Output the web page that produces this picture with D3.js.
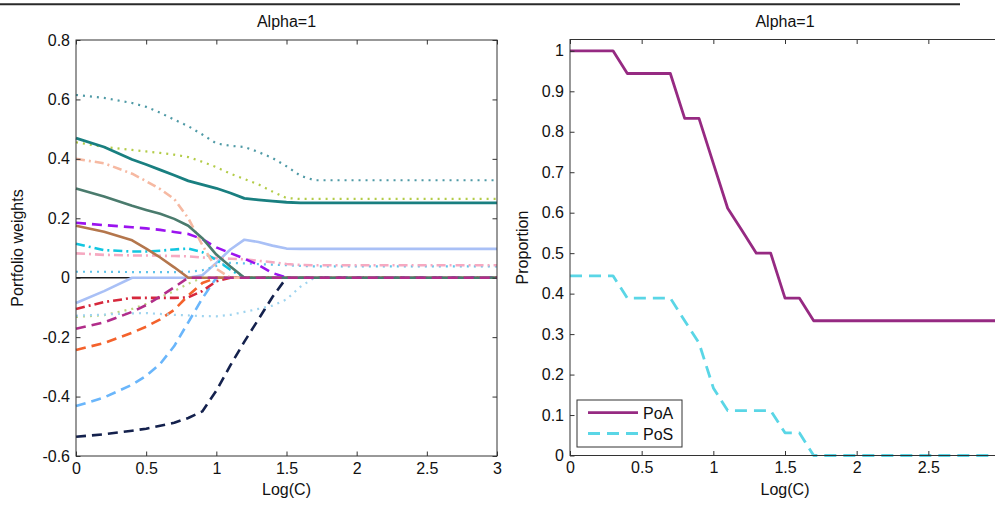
<!DOCTYPE html>
<html>
<head>
<meta charset="utf-8">
<script src="https://cdn.jsdelivr.net/npm/d3@7"></script>
<style>
  body { margin: 0; background: #fff; }
  svg { display: block; font-family: "Liberation Sans", Arial, sans-serif; }
</style>
</head>
<body>
<svg id="chart" width="995" height="505"></svg>
<script>
// ---- Left panel: portfolio weights along the regularisation path ----
const logC = [0, 0.2, 0.4, 0.5, 0.6, 0.7, 0.8, 0.9, 1.0, 1.1, 1.2, 1.3, 1.4, 1.5, 1.6, 1.7, 3];

const wBlackSolid      = [0, 0, 0, 0, 0, 0, 0, 0, 0, 0, 0, 0, 0, 0, 0, 0, 0];
const wTealDot         = [0.615, 0.605, 0.588, 0.575, 0.555, 0.532, 0.51, 0.482, 0.452, 0.444, 0.44, 0.423, 0.403, 0.375, 0.343, 0.328, 0.328];
const wTealSolid       = [0.47, 0.44, 0.398, 0.381, 0.363, 0.345, 0.326, 0.313, 0.301, 0.285, 0.267, 0.262, 0.258, 0.254, 0.252, 0.252, 0.252];
const wOliveDotA       = [0.456, 0.44, 0.43, 0.425, 0.42, 0.414, 0.406, 0.39, 0.372, 0.35, 0.332, 0.314, 0.29, 0.268, 0.265, 0.265, 0.265];
const wSalmonDashDot   = [0.40, 0.385, 0.35, 0.325, 0.298, 0.265, 0.2, 0.11, 0.03, 0, 0, 0, 0, 0, 0, 0, 0];
const wSlateSolid      = [0.30, 0.273, 0.242, 0.228, 0.215, 0.198, 0.175, 0.133, 0.078, 0.038, 0, 0, 0, 0, 0, 0, 0];
const wPurpleDash      = [0.185, 0.177, 0.17, 0.166, 0.161, 0.154, 0.147, 0.13, 0.102, 0.083, 0.064, 0.043, 0.016, 0, 0, 0, 0];
const wBrownSolid      = [0.175, 0.155, 0.126, 0.098, 0.068, 0.035, 0, 0, 0, 0, 0, 0, 0, 0, 0, 0, 0];
const wCyanDashDot     = [0.114, 0.093, 0.088, 0.088, 0.091, 0.095, 0.098, 0.086, 0.06, 0.027, 0, 0, 0, 0, 0, 0, 0];
const wPinkDashDot     = [0.082, 0.077, 0.075, 0.075, 0.074, 0.073, 0.072, 0.068, 0.066, 0.064, 0.062, 0.057, 0.052, 0.046, 0.043, 0.042, 0.042];
const wSkyDotA         = [0.02, 0.02, 0.019, 0.019, 0.019, 0.019, 0.02, 0.025, 0.04, 0.05, 0.048, 0.046, 0.044, 0.042, 0.04, 0.038, 0.038];
const wPeriwinkleSolid = [-0.085, -0.045, 0, 0, 0, 0, 0, 0.008, 0.05, 0.095, 0.128, 0.12, 0.108, 0.098, 0.097, 0.097, 0.097];
const wRedDashDot      = [-0.105, -0.082, -0.068, -0.068, -0.068, -0.068, -0.066, -0.045, -0.012, 0, 0, 0, 0, 0, 0, 0, 0];
const wOliveDotB       = [-0.132, -0.126, -0.105, -0.088, -0.066, -0.045, -0.02, 0, 0, 0, 0, 0, 0, 0, 0, 0, 0];
const wSkyDotB         = [-0.128, -0.124, -0.12, -0.119, -0.122, -0.125, -0.127, -0.129, -0.13, -0.125, -0.115, -0.105, -0.094, -0.073, -0.03, 0, 0];
const wMagentaDash     = [-0.172, -0.15, -0.115, -0.092, -0.063, -0.032, 0, 0, 0, 0, 0, 0, 0, 0, 0, 0, 0];
const wOrangeDash      = [-0.243, -0.22, -0.185, -0.165, -0.14, -0.108, -0.06, -0.018, 0, 0, 0, 0, 0, 0, 0, 0, 0];
const wSkyDash         = [-0.432, -0.403, -0.36, -0.33, -0.29, -0.23, -0.15, -0.07, 0, 0, 0, 0, 0, 0, 0, 0, 0];
const wNavyDash        = [-0.535, -0.527, -0.515, -0.508, -0.498, -0.488, -0.472, -0.45, -0.38, -0.295, -0.215, -0.14, -0.065, 0, 0, 0, 0];

const weightTicks      = [-0.6, -0.4, -0.2, 0, 0.2, 0.4, 0.6, 0.8];
const weightTickLabels = ["-0.6", "-0.4", "-0.2", "0", "0.2", "0.4", "0.6", "0.8"];
const logCTicks        = [0, 0.5, 1, 1.5, 2, 2.5, 3];
const logCTickLabels   = ["0", "0.5", "1", "1.5", "2", "2.5", "3"];

// ---- Right panel: proportion curves ----
const propLogC = [0, 0.3, 0.4, 0.7, 0.8, 0.9, 1.0, 1.1, 1.2, 1.3, 1.4, 1.5, 1.6, 1.7, 3];
const poa      = [1, 1, 0.944, 0.944, 0.833, 0.833, 0.722, 0.611, 0.556, 0.5, 0.5, 0.389, 0.389, 0.333, 0.333];
const pos      = [0.444, 0.444, 0.389, 0.389, 0.333, 0.278, 0.167, 0.111, 0.111, 0.111, 0.111, 0.056, 0.056, 0, 0];
const propTicks      = [0, 0.1, 0.2, 0.3, 0.4, 0.5, 0.6, 0.7, 0.8, 0.9, 1];
const propTickLabels = ["0", "0.1", "0.2", "0.3", "0.4", "0.5", "0.6", "0.7", "0.8", "0.9", "1"];
const propXTicks      = [0, 0.5, 1, 1.5, 2, 2.5];
const propXTickLabels = ["0", "0.5", "1", "1.5", "2", "2.5"];
const legendNames = ["PoA", "PoS"];
const panelTitle  = "Alpha=1";

// ---- line styles ----
const DASH = "10,6", DASHDOT = "9,4,2,4", DOT = "2,5";
const weightSeries = [
  { v: wBlackSolid,      color: "#1a1a1a", dash: null,    w: 1.6 },
  { v: wNavyDash,        color: "#14214d", dash: DASH,    w: 2.6 },
  { v: wSkyDash,         color: "#6ab6fb", dash: DASH,    w: 2.6 },
  { v: wOrangeDash,      color: "#f4622c", dash: DASH,    w: 2.6 },
  { v: wOliveDotB,       color: "#bcd57e", dash: DOT,     w: 2.2 },
  { v: wSkyDotB,         color: "#9fd4ef", dash: DOT,     w: 2.2 },
  { v: wRedDashDot,      color: "#d6283c", dash: DASHDOT, w: 2.6 },
  { v: wPeriwinkleSolid, color: "#a9c0f6", dash: null,    w: 2.6 },
  { v: wSkyDotA,         color: "#5fc3ea", dash: DOT,     w: 2.2 },
  { v: wPinkDashDot,     color: "#f6a9c1", dash: DASHDOT, w: 2.6 },
  { v: wCyanDashDot,     color: "#12c6e0", dash: DASHDOT, w: 2.6 },
  { v: wBrownSolid,      color: "#b4764c", dash: null,    w: 2.6 },
  { v: wPurpleDash,      color: "#9b13ef", dash: DASH,    w: 2.6 },
  { v: wSalmonDashDot,   color: "#f6b9a2", dash: DASHDOT, w: 2.6 },
  { v: wOliveDotA,       color: "#b3cc48", dash: DOT,     w: 2.2 },
  { v: wTealSolid,       color: "#197f80", dash: null,    w: 2.8 },
  { v: wTealDot,         color: "#4f9aa6", dash: DOT,     w: 2.2 },
  { v: wSlateSolid,      color: "#4a7b6d", dash: null,    w: 2.6 },
  { v: wMagentaDash,     color: "#b12d8a", dash: DASH,    w: 2.6 }
];

const svg = d3.select("#chart");
const FONT = 16, TICK = 4.5, AXIS_COLOR = "#333";

// rule across the top of the figure
svg.append("line").attr("x1", 0).attr("x2", 960).attr("y1", 4.3).attr("y2", 4.3)
  .attr("stroke", "#2a2a2a").attr("stroke-width", 2);

function panel(opts) {
  const { x, y, xTicks, xLabels, yTicks, yLabels, xTitle, yTitle, yTitleX } = opts;
  const [x0, x1] = x.range();
  const [y0, y1] = y.range(); // y0 bottom, y1 top
  const g = svg.append("g");

  const fmt = (ticks, labels) => d => labels[ticks.indexOf(d)];
  const styleAxis = sel => {
    sel.select(".domain").remove();
    sel.selectAll(".tick line").attr("stroke", AXIS_COLOR);
    sel.selectAll("text").attr("font-size", FONT).attr("fill", "#111")
      .attr("font-family", "'Liberation Sans', Arial, sans-serif");
  };

  g.append("g").attr("transform", `translate(0,${y0})`)
    .call(d3.axisBottom(x).tickValues(xTicks).tickFormat(fmt(xTicks, xLabels))
      .tickSizeInner(-TICK).tickSizeOuter(0).tickPadding(6.5)).call(styleAxis);
  g.append("g").attr("transform", `translate(0,${y1})`)
    .call(d3.axisTop(x).tickValues(xTicks).tickFormat("")
      .tickSizeInner(-TICK).tickSizeOuter(0)).call(styleAxis);
  g.append("g").attr("transform", `translate(${x0},0)`)
    .call(d3.axisLeft(y).tickValues(yTicks).tickFormat(fmt(yTicks, yLabels))
      .tickSizeInner(-TICK).tickSizeOuter(0).tickPadding(6)).call(styleAxis);
  g.append("g").attr("transform", `translate(${x1},0)`)
    .call(d3.axisRight(y).tickValues(yTicks).tickFormat("")
      .tickSizeInner(-TICK).tickSizeOuter(0)).call(styleAxis);

  // frame
  g.append("rect").attr("x", x0).attr("y", y1).attr("width", x1 - x0).attr("height", y0 - y1)
    .attr("fill", "none").attr("stroke", AXIS_COLOR).attr("stroke-width", 1);

  // titles
  const cx = (x0 + x1) / 2;
  svg.append("text").attr("x", cx).attr("y", 26.5).attr("text-anchor", "middle")
    .attr("font-size", FONT).attr("fill", "#111").text(panelTitle);
  svg.append("text").attr("x", cx).attr("y", 495).attr("text-anchor", "middle")
    .attr("font-size", FONT).attr("fill", "#111").text(xTitle);
  svg.append("text").attr("transform", `translate(${yTitleX},${(y0 + y1) / 2}) rotate(-90)`)
    .attr("text-anchor", "middle").attr("font-size", FONT).attr("fill", "#111").text(yTitle);
  return g;
}

// ---- left panel ----
const xL = d3.scaleLinear().domain([0, 3]).range([76, 497]);
const yL = d3.scaleLinear().domain([-0.6, 0.8]).range([456, 40]);
const gL = panel({ x: xL, y: yL, xTicks: logCTicks, xLabels: logCTickLabels,
  yTicks: weightTicks, yLabels: weightTickLabels, xTitle: "Log(C)",
  yTitle: "Portfolio weights", yTitleX: 23 });

const lineL = d3.line().x((d, i) => xL(logC[i])).y(d => yL(d));
const linesL = gL.insert("g", ":first-child");
weightSeries.forEach(s => {
  linesL.append("path").attr("d", lineL(s.v)).attr("fill", "none")
    .attr("stroke", s.color).attr("stroke-width", s.w)
    .attr("stroke-dasharray", s.dash).attr("stroke-linejoin", "round");
});

// ---- right panel (its x = 3 edge lies just past the page) ----
const xR = d3.scaleLinear().domain([0, 3]).range([570, 1000]);
const yR = d3.scaleLinear().domain([0, 1.028]).range([455.5, 39.5]);
const gR = panel({ x: xR, y: yR, xTicks: propXTicks, xLabels: propXTickLabels,
  yTicks: propTicks, yLabels: propTickLabels, xTitle: "Log(C)",
  yTitle: "Proportion", yTitleX: 528 });

const lineR = d3.line().x((d, i) => xR(propLogC[i])).y(d => yR(d));
const propSeries = [
  { v: poa, color: "#962a82", dash: null,   w: 2.8 },
  { v: pos, color: "#5ad6e6", dash: "12,7", w: 2.8 }
];
const linesR = gR.insert("g", ":first-child");
propSeries.forEach(s => {
  linesR.append("path").attr("d", lineR(s.v)).attr("fill", "none")
    .attr("stroke", s.color).attr("stroke-width", s.w)
    .attr("stroke-dasharray", s.dash).attr("stroke-linejoin", "round");
});

// legend
const lg = svg.append("g").attr("transform", "translate(577,400)");
lg.append("rect").attr("width", 105).attr("height", 47)
  .attr("fill", "#fff").attr("stroke", AXIS_COLOR).attr("stroke-width", 1);
propSeries.forEach((s, i) => {
  const yy = 12.7 + i * 20.8;
  lg.append("line").attr("x1", 11).attr("x2", 61).attr("y1", yy).attr("y2", yy)
    .attr("stroke", s.color).attr("stroke-width", s.w).attr("stroke-dasharray", s.dash);
  lg.append("text").attr("x", 66).attr("y", yy + 6).attr("font-size", FONT)
    .attr("fill", "#111").text(legendNames[i]);
});
</script>
</body>
</html>
